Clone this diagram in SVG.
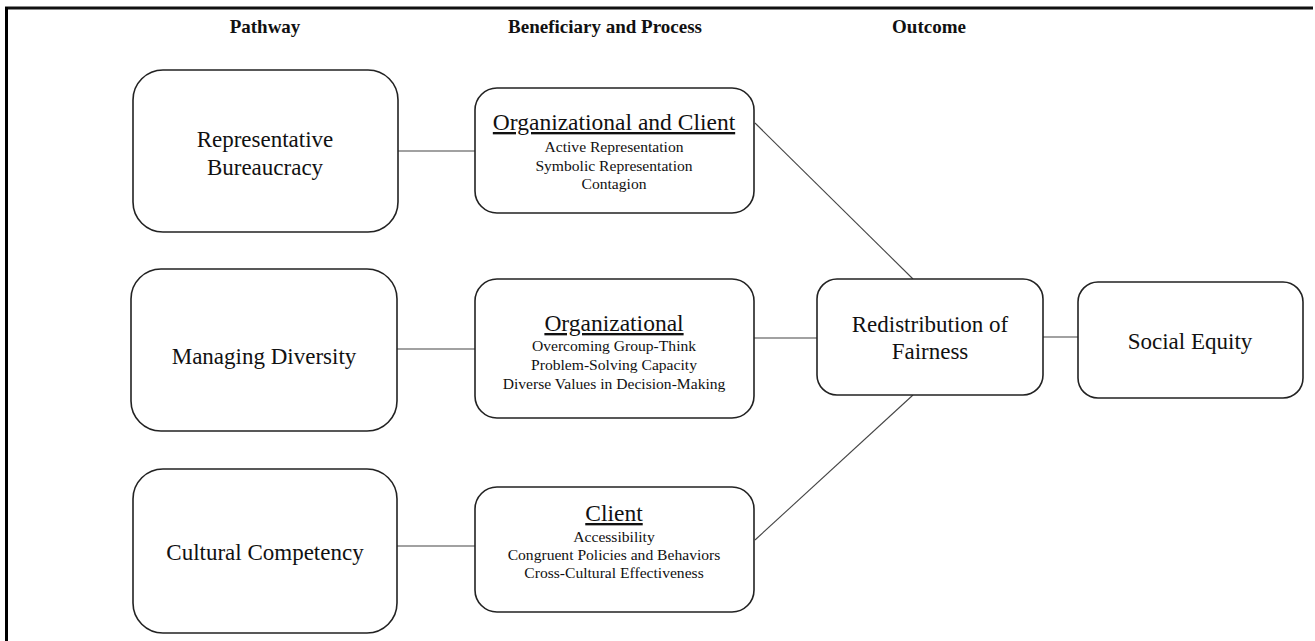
<svg xmlns="http://www.w3.org/2000/svg" width="1315" height="641" viewBox="0 0 1315 641">
<style>
.box{fill:#fff;stroke:#222;stroke-width:1.6}
.t{font-family:'Liberation Serif',Tinos,'Times New Roman',Times,'Nimbus Roman',serif;fill:#111;text-anchor:middle}
.h{font-size:19px;font-weight:bold}
.big{font-size:23px}
.ttl{font-size:23.5px;text-decoration:underline}
.sm{font-size:15.6px}
.c{stroke:#444;stroke-width:1.1;fill:none}
</style>
<rect x="0" y="0" width="1315" height="641" fill="#fff"/>
<g id="frame">
<line x1="5" y1="8" x2="1313" y2="8" stroke="#111" stroke-width="3"/>
<line x1="6.5" y1="7" x2="6.5" y2="641" stroke="#000" stroke-width="3"/>
</g>
<g id="headers">
<text class="t h" x="265" y="33">Pathway</text>
<text class="t h" x="605" y="33">Beneficiary and Process</text>
<text class="t h" x="929" y="33">Outcome</text>
</g>
<g id="connectors">
<line class="c" x1="398" y1="151" x2="475" y2="151"/>
<line class="c" x1="397" y1="349" x2="475" y2="349"/>
<line class="c" x1="397" y1="546" x2="475" y2="546"/>
<line class="c" x1="755" y1="123" x2="913" y2="279"/>
<line class="c" x1="754" y1="338" x2="817" y2="338"/>
<line class="c" x1="755" y1="540" x2="913" y2="395"/>
<line class="c" x1="1043" y1="337" x2="1078" y2="337"/>
</g>
<g id="representative-bureaucracy">
<rect class="box" x="133" y="70" width="265" height="162" rx="30"/>
<text class="t big" x="265" y="147">Representative</text>
<text class="t big" x="265" y="175">Bureaucracy</text>
</g>
<g id="managing-diversity">
<rect class="box" x="131" y="269" width="266" height="162" rx="30"/>
<text class="t big" x="264" y="364">Managing Diversity</text>
</g>
<g id="cultural-competency">
<rect class="box" x="133" y="469" width="264" height="164" rx="30"/>
<text class="t big" x="265" y="560">Cultural Competency</text>
</g>
<g id="organizational-and-client">
<rect class="box" x="475" y="88" width="279" height="125" rx="22"/>
<text class="t ttl" x="614" y="130">Organizational and Client</text>
<text class="t sm" x="614" y="152">Active Representation</text>
<text class="t sm" x="614" y="171">Symbolic Representation</text>
<text class="t sm" x="614" y="189">Contagion</text>
</g>
<g id="organizational">
<rect class="box" x="475" y="279" width="279" height="139" rx="22"/>
<text class="t ttl" x="614" y="331">Organizational</text>
<text class="t sm" x="614" y="351">Overcoming Group-Think</text>
<text class="t sm" x="614" y="370">Problem-Solving Capacity</text>
<text class="t sm" x="614" y="389">Diverse Values in Decision-Making</text>
</g>
<g id="client">
<rect class="box" x="475" y="487" width="279" height="125" rx="22"/>
<text class="t ttl" x="614" y="521">Client</text>
<text class="t sm" x="614" y="542">Accessibility</text>
<text class="t sm" x="614" y="560">Congruent Policies and Behaviors</text>
<text class="t sm" x="614" y="578">Cross-Cultural Effectiveness</text>
</g>
<g id="redistribution-of-fairness">
<rect class="box" x="817" y="279" width="226" height="116" rx="20"/>
<text class="t big" x="930" y="332">Redistribution of</text>
<text class="t big" x="930" y="359">Fairness</text>
</g>
<g id="social-equity">
<rect class="box" x="1078" y="282" width="225" height="116" rx="20"/>
<text class="t big" x="1190" y="349">Social Equity</text>
</g>
</svg>
